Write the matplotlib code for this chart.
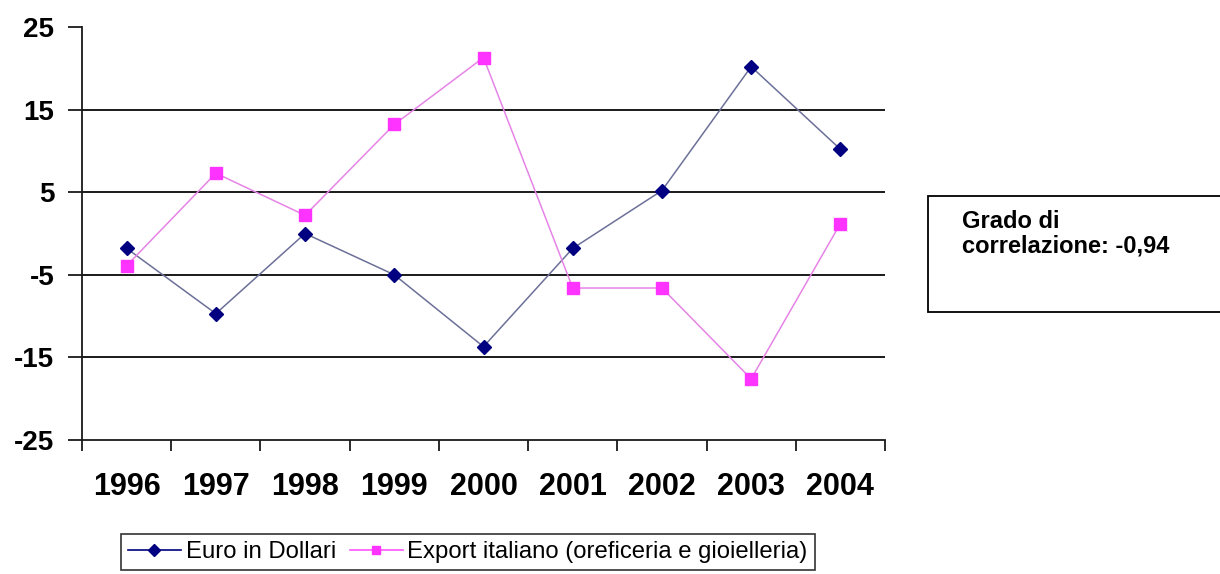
import matplotlib
matplotlib.use("Agg")
import matplotlib.pyplot as plt
from matplotlib.patches import Rectangle
from matplotlib.lines import Line2D
import numpy as np

plt.rcParams['font.family'] = ['Liberation Sans', 'DejaVu Sans']

years = ["1996", "1997", "1998", "1999", "2000", "2001", "2002", "2003", "2004"]
euro_dollari = [-1.8, -9.7, 0.0, -5.0, -13.7, -1.8, 5.2, 20.2, 10.2]
export_oro = [-3.9, 7.3, 2.2, 13.2, 21.3, -6.6, -6.6, -17.6, 1.2]
y_ticks = [-25, -15, -5, 5, 15, 25]
grid_levels = [-15, -5, 5, 15]
label_euro = "Euro in Dollari"
label_export = "Export italiano (oreficeria e gioielleria)"
note_text = "Grado di\ncorrelazione: -0,94"

W, H = 1220, 574
fig = plt.figure(figsize=(W / 100, H / 100), dpi=100)
fig.patch.set_facecolor("white")

ax = fig.add_axes([82 / W, 1 - 440 / H, (885 - 82) / W, (440 - 27) / H])
x = np.arange(len(years)) + 0.5

for g in grid_levels:
    ax.axhline(g, color="#1a1a1a", lw=1.4, zorder=1)

ax.plot(x, euro_dollari, color="#6c7098", lw=1.1, zorder=3,
        marker="D", markersize=7, markerfacecolor="#000080",
        markeredgecolor="#000080")
ax.plot(x, export_oro, color="#e684e6", lw=1.1, zorder=3,
        marker="s", markersize=8, markerfacecolor="#ff33ff",
        markeredgecolor="#ff33ff")

ax.set_xlim(0, len(years))
ax.set_ylim(-25, 25)
ax.set_yticks(y_ticks)
ax.set_yticklabels([str(v) for v in y_ticks], fontsize=20, fontweight="bold")
ax.set_xticks(np.arange(len(years) + 1))
ax.set_xticklabels([])
ax.set_xticks(x, minor=True)
ax.set_xticklabels(years, minor=True, fontsize=22, fontweight="bold")
ax.tick_params(axis="x", which="major", length=8, width=1.3, direction="out", colors="#1a1a1a")
ax.tick_params(axis="x", which="minor", length=0, pad=23)
ax.tick_params(axis="y", length=10, width=1.3, direction="out", pad=10, colors="#1a1a1a")
for lab in ax.get_xticklabels(minor=True) + ax.get_yticklabels():
    lab.set_color("black")

for s in ("top", "right"):
    ax.spines[s].set_visible(False)
for s in ("left", "bottom"):
    ax.spines[s].set_color("#1a1a1a")
    ax.spines[s].set_linewidth(1.3)

handles = [
    Line2D([], [], color="#000080", lw=1.2, marker="D", markersize=6,
           markerfacecolor="#000080", markeredgecolor="#000080"),
    Line2D([], [], color="#ff55ff", lw=1.2, marker="s", markersize=6,
           markerfacecolor="#ff33ff", markeredgecolor="#ff33ff"),
]
leg = fig.legend(handles, [label_euro, label_export], ncol=2,
                 loc="upper left", bbox_to_anchor=(121 / W, 1 - 534 / H),
                 fontsize=17.2, frameon=True, fancybox=False,
                 edgecolor="black", handlelength=2.2, handletextpad=0.2,
                 columnspacing=0.6, borderpad=0.3, borderaxespad=0)
leg.get_frame().set_linewidth(1.2)

fig.patches.append(Rectangle((928 / W, 1 - 312 / H), (1240 - 928) / W,
                             (312 - 196) / H, transform=fig.transFigure,
                             facecolor="white", edgecolor="black", lw=1.3,
                             figure=fig))
fig.text(962 / W, 1 - 210 / H, note_text, fontsize=17, fontweight="bold",
         va="top", ha="left", linespacing=1.1)

fig.savefig("out.png", dpi=100)
